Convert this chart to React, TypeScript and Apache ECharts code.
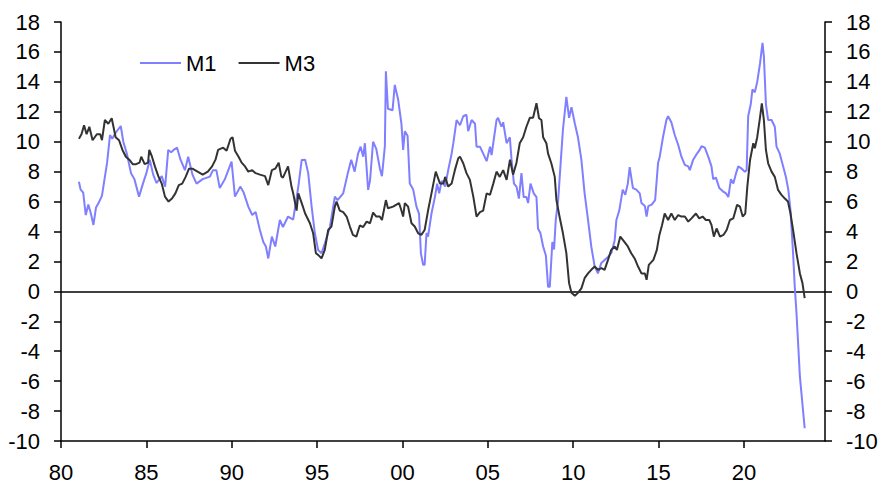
import React, { useEffect, useRef } from "react";
import * as echarts from "echarts";

const xTicks = [1980, 1985, 1990, 1995, 2000, 2005, 2010, 2015, 2020];

const m1Time = [
  1981.05, 1981.15, 1981.3, 1981.45, 1981.6, 1981.75, 1981.9, 1982.05, 1982.2, 1982.4, 1982.55, 1982.7, 1982.87,
  1983.0, 1983.2, 1983.5, 1983.65, 1983.85, 1984.1, 1984.3, 1984.57, 1984.8, 1985.0, 1985.2, 1985.4, 1985.6, 1985.9,
  1986.1, 1986.28, 1986.45, 1986.6, 1986.8, 1987.0, 1987.26, 1987.45, 1987.7, 1987.94, 1988.3, 1988.72, 1988.9,
  1989.1, 1989.3, 1989.6, 1989.99, 1990.19, 1990.5, 1990.7, 1990.97, 1991.2, 1991.4, 1991.65, 1991.85, 1992.0,
  1992.14, 1992.35, 1992.55, 1992.82, 1993.0, 1993.3, 1993.6, 1993.9, 1994.1, 1994.3, 1994.48, 1994.68, 1994.87,
  1995.06, 1995.26, 1995.45, 1995.75, 1996.04, 1996.2, 1996.53, 1996.8, 1997.0, 1997.2, 1997.4, 1997.55, 1997.7,
  1997.8, 1997.99, 1998.1, 1998.28, 1998.47, 1998.68, 1998.8, 1998.97, 1999.03, 1999.15, 1999.42, 1999.55, 1999.75,
  1999.94, 2000.04, 2000.14, 2000.3, 2000.43, 2000.63, 2000.82, 2000.97, 2001.08, 2001.21, 2001.3, 2001.41, 2001.5,
  2001.7, 2001.9, 2002.03, 2002.15, 2002.3, 2002.5, 2002.68, 2002.88, 2002.98, 2003.17, 2003.37, 2003.56, 2003.75,
  2003.85, 2004.05, 2004.25, 2004.34, 2004.54, 2004.73, 2004.93, 2005.13, 2005.22, 2005.32, 2005.51, 2005.6, 2005.8,
  2005.9, 2006.1, 2006.29, 2006.39, 2006.53, 2006.68, 2006.82, 2006.97, 2007.1, 2007.26, 2007.36, 2007.5, 2007.69,
  2007.85, 2007.94, 2008.08, 2008.24, 2008.4, 2008.53, 2008.63, 2008.78, 2008.88, 2008.98, 2009.12, 2009.25, 2009.4,
  2009.6, 2009.76, 2009.9, 2010.1, 2010.28, 2010.48, 2010.67, 2010.87, 2011.06, 2011.26, 2011.45, 2011.65, 2011.84,
  2012.04, 2012.23, 2012.43, 2012.53, 2012.7, 2012.9, 2013.05, 2013.2, 2013.31, 2013.5, 2013.7, 2013.9, 2014.0,
  2014.2, 2014.3, 2014.4, 2014.6, 2014.8, 2014.97, 2015.07, 2015.26, 2015.46, 2015.56, 2015.75, 2015.95, 2016.15,
  2016.34, 2016.54, 2016.74, 2016.83, 2017.03, 2017.19, 2017.38, 2017.52, 2017.71, 2017.91, 2018.1, 2018.2, 2018.36,
  2018.56, 2018.75, 2018.95, 2019.09, 2019.24, 2019.38, 2019.54, 2019.67, 2019.87, 2020.06, 2020.16, 2020.25, 2020.4,
  2020.5, 2020.64, 2020.78, 2020.94, 2021.09, 2021.17, 2021.29, 2021.42, 2021.62, 2021.81, 2021.91, 2022.1, 2022.3,
  2022.46, 2022.6, 2022.73, 2022.88, 2022.98, 2023.08, 2023.28, 2023.56,
];
const m1Values = [
  7.33, 6.8, 6.6, 5.1, 5.8, 5.2, 4.44, 5.6, 5.9, 6.4, 7.5, 8.6, 10.45,
  10.2, 10.6, 11.05, 10.0, 9.23, 7.9, 7.5, 6.33, 7.2, 7.9, 8.8, 7.8, 7.24, 7.7,
  7.0, 9.45, 9.3, 9.45, 9.6, 8.8, 8.1, 9.0, 7.8, 7.2, 7.5, 7.67, 8.1,
  8.1, 6.9, 7.5, 8.67, 6.33, 7.0, 6.6, 5.66, 5.1, 5.3, 4.1, 3.3, 3.0,
  2.2, 3.66, 3.0, 4.77, 4.3, 5.0, 4.8, 7.0, 8.78, 8.8, 7.9, 5.66, 3.88,
  2.77, 2.55, 3.2, 4.3, 6.33, 6.1, 6.55, 7.9, 8.8, 8.0, 9.2, 9.67, 9.0,
  9.9, 6.78, 7.4, 10.0, 9.5, 8.2, 7.7, 9.7, 14.7, 12.2, 12.1, 13.8, 12.8,
  11.2, 9.45, 10.7, 10.4, 7.2, 6.8, 5.66, 5.2, 2.55, 1.77, 1.77, 3.9, 3.66,
  5.2, 6.3, 7.2, 6.55, 7.4, 7.0, 8.1, 9.2, 9.9, 11.45, 11.1, 11.7, 11.8,
  10.7, 11.45, 11.2, 9.67, 9.67, 9.2, 8.7, 9.67, 9.1, 9.9, 11.45, 11.6, 11.0,
  11.3, 9.9, 10.3, 8.8, 7.2, 7.0, 6.2, 7.9, 6.3, 6.3, 5.9, 7.2, 6.55,
  6.3, 4.2, 3.9, 3.0, 2.4, 0.3, 0.3, 3.3, 2.8, 4.77, 6.1, 8.3, 10.8,
  13.0, 11.6, 12.3, 11.2, 10.3, 8.8, 6.55, 4.77, 3.0, 1.66, 1.2, 1.9, 2.1,
  2.3, 2.55, 3.4, 4.77, 5.4, 6.8, 6.45, 7.2, 8.3, 6.9, 6.8, 6.55, 5.9,
  5.7, 5.0, 5.7, 5.8, 6.1, 8.56, 9.0, 10.3, 11.45, 11.7, 11.3, 10.45, 9.8,
  9.0, 8.45, 8.35, 8.1, 8.8, 9.1, 9.4, 9.7, 9.6, 9.0, 8.35, 7.5, 7.6,
  6.9, 6.7, 6.55, 6.3, 7.5, 7.2, 7.9, 8.35, 8.2, 8.0, 8.1, 11.7, 12.5,
  13.5, 13.3, 14.0, 15.2, 16.6, 15.7, 12.5, 11.45, 11.45, 11.0, 9.67, 9.2, 8.35,
  7.65, 6.8, 5.4, 2.55, 0.3, -1.45, -5.7, -9.15,
];

const m3Time = [
  1981.05, 1981.2, 1981.35, 1981.5, 1981.66, 1981.85, 1982.1, 1982.3, 1982.4, 1982.57, 1982.77, 1982.97, 1983.2,
  1983.4, 1983.6, 1983.8, 1984.0, 1984.2, 1984.4, 1984.6, 1984.7, 1984.9, 1985.1, 1985.17, 1985.33, 1985.5, 1985.7,
  1985.9, 1986.09, 1986.3, 1986.5, 1986.7, 1986.9, 1987.1, 1987.3, 1987.5, 1987.7, 1988.0, 1988.3, 1988.6, 1988.85,
  1989.05, 1989.2, 1989.5, 1989.7, 1989.93, 1990.05, 1990.19, 1990.4, 1990.58, 1990.78, 1990.97, 1991.2, 1991.4,
  1991.65, 1991.95, 1992.14, 1992.35, 1992.55, 1992.75, 1992.9, 1993.0, 1993.3, 1993.5, 1993.6, 1993.8, 1993.9,
  1994.1, 1994.3, 1994.58, 1994.77, 1994.93, 1995.06, 1995.26, 1995.45, 1995.65, 1995.84, 1996.04, 1996.14, 1996.33,
  1996.53, 1996.73, 1996.92, 1997.1, 1997.3, 1997.5, 1997.7, 1997.9, 1998.1, 1998.28, 1998.47, 1998.67, 1998.8,
  1999.03, 1999.15, 1999.45, 1999.65, 1999.8, 1999.94, 2000.04, 2000.14, 2000.33, 2000.53, 2000.72, 2000.92, 2001.1,
  2001.3, 2001.5, 2001.7, 2001.95, 2002.2, 2002.4, 2002.5, 2002.68, 2002.88, 2003.07, 2003.27, 2003.37, 2003.56,
  2003.75, 2003.95, 2004.15, 2004.34, 2004.54, 2004.73, 2004.93, 2005.13, 2005.32, 2005.51, 2005.7, 2005.9, 2006.1,
  2006.3, 2006.48, 2006.68, 2006.87, 2007.07, 2007.26, 2007.46, 2007.65, 2007.85, 2008.0, 2008.14, 2008.24, 2008.43,
  2008.53, 2008.72, 2008.92, 2009.02, 2009.2, 2009.4, 2009.6, 2009.76, 2009.9, 2010.1, 2010.28, 2010.48, 2010.67,
  2010.87, 2011.06, 2011.26, 2011.45, 2011.65, 2011.84, 2012.04, 2012.23, 2012.43, 2012.56, 2012.76, 2013.0, 2013.2,
  2013.4, 2013.6, 2013.8, 2014.0, 2014.2, 2014.3, 2014.43, 2014.7, 2014.9, 2015.05, 2015.2, 2015.36, 2015.56,
  2015.75, 2015.95, 2016.15, 2016.34, 2016.54, 2016.74, 2016.93, 2017.19, 2017.38, 2017.58, 2017.77, 2017.97, 2018.1,
  2018.24, 2018.4, 2018.6, 2018.8, 2018.99, 2019.18, 2019.38, 2019.6, 2019.77, 2019.93, 2020.08, 2020.2, 2020.36,
  2020.55, 2020.64, 2020.78, 2020.94, 2021.05, 2021.17, 2021.29, 2021.42, 2021.62, 2021.81, 2022.0, 2022.2, 2022.4,
  2022.58, 2022.73, 2022.88, 2023.08, 2023.28, 2023.43, 2023.56,
];
const m3Values = [
  10.2, 10.5, 11.1, 10.5, 11.0, 10.1, 10.5, 10.5, 10.1, 11.45, 11.2, 11.57, 10.3,
  10.1, 9.45, 9.0, 8.8, 8.5, 8.5, 8.6, 9.0, 8.5, 8.6, 9.45, 9.0, 8.35, 7.7,
  7.2, 6.33, 6.0, 6.2, 6.55, 7.1, 7.2, 7.65, 8.2, 8.2, 8.0, 7.8, 8.0, 8.35,
  8.8, 9.45, 9.6, 9.4, 10.2, 10.3, 9.4, 9.0, 8.6, 8.35, 8.0, 8.1, 7.9,
  7.8, 7.7, 7.1, 8.1, 8.2, 8.6, 7.7, 7.6, 8.35, 7.0, 6.55, 5.4, 6.55,
  5.9, 5.2, 4.55, 3.88, 2.55, 2.44, 2.2, 2.77, 4.1, 4.33, 5.66, 6.0, 5.4,
  5.3, 5.0, 4.33, 3.77, 3.66, 4.4, 4.3, 4.66, 4.55, 5.26, 5.0, 5.0, 4.77,
  6.1, 5.55, 5.66, 5.8, 5.9, 5.4, 5.0, 5.9, 5.66, 4.55, 4.33, 3.88, 3.77,
  4.1, 5.4, 6.55, 8.0, 7.2, 7.2, 7.65, 7.0, 7.2, 8.1, 8.9, 9.0, 8.56,
  7.9, 7.45, 6.33, 5.0, 5.3, 5.4, 6.55, 6.45, 7.2, 8.0, 7.65, 8.1, 7.45,
  8.8, 7.8, 8.6, 9.9, 10.3, 11.0, 11.6, 11.6, 12.57, 11.57, 11.45, 10.3, 9.9,
  9.2, 8.56, 7.65, 6.1, 5.0, 3.88, 2.55, 0.55, -0.1, -0.3, -0.1, 0.2, 0.88,
  1.2, 1.44, 1.66, 1.44, 1.55, 1.44, 2.1, 2.77, 3.0, 2.77, 3.66, 3.3, 3.0,
  2.55, 2.2, 1.66, 1.2, 1.2, 0.77, 1.77, 2.1, 2.77, 3.77, 4.4, 5.2, 4.77,
  5.2, 4.77, 5.1, 5.0, 5.0, 4.66, 4.88, 5.2, 4.88, 5.0, 4.77, 4.77, 4.44,
  3.66, 4.2, 3.66, 3.77, 4.1, 4.77, 4.88, 5.78, 5.66, 5.0, 5.2, 7.0, 8.78,
  9.9, 9.56, 10.3, 11.6, 12.57, 11.45, 9.45, 8.56, 8.0, 7.65, 6.78, 6.45, 6.2,
  6.0, 5.2, 4.1, 2.55, 1.2, 0.55, -0.45,
];

const zip = (t: number[], v: number[]) => t.map((x, i) => [x, v[i]]);

const FONT = "'Liberation Sans', Arial, sans-serif";
const FS = 22;

export default function App() {
  const ref = useRef<HTMLDivElement>(null);
  useEffect(() => {
    if (!ref.current) return;
    const chart = echarts.init(ref.current, null, { renderer: "svg" });
    const yAxisBase = {
      type: "value" as const,
      min: -10,
      max: 18,
      interval: 2,
      splitLine: { show: false },
      axisLine: { show: true, lineStyle: { color: "#000", width: 1.5 } },
      axisTick: { show: true, inside: false, length: 7, lineStyle: { color: "#000", width: 1.5 } },
      axisLabel: { color: "#000", fontSize: FS, fontFamily: FONT, margin: 21 },
    };
    chart.setOption({
      animation: false,
      backgroundColor: "#fff",
      textStyle: { fontFamily: FONT },
      grid: { left: 61, right: 61, top: 22, bottom: 55, containLabel: false },
      legend: {
        left: 135,
        top: 47,
        itemWidth: 41,
        itemHeight: 2,
        itemGap: 22,
        icon: "rect",
        textStyle: { color: "#000", fontSize: FS, fontFamily: FONT },
        data: ["M1", "M3"],
      },
      xAxis: {
        type: "value",
        min: 1980,
        max: 2024.75,
        interval: 5,
        splitLine: { show: false },
        axisLine: { show: true, onZero: false, lineStyle: { color: "#000", width: 1.5 } },
        axisTick: {
          show: true,
          length: 7,
          customValues: xTicks,
          lineStyle: { color: "#000", width: 1.5 },
        },
        axisLabel: {
          color: "#000",
          fontSize: FS,
          fontFamily: FONT,
          margin: 20,
          customValues: xTicks,
          formatter: (v: number) => String(Math.round(v) % 100).padStart(2, "0"),
        },
      },
      yAxis: [
        { ...yAxisBase, position: "left" },
        { ...yAxisBase, position: "right" },
      ],
      series: [
        {
          name: "M1",
          type: "line",
          data: zip(m1Time, m1Values),
          showSymbol: false,
          symbol: "none",
          lineStyle: { color: "#7f7fff", width: 2 },
          itemStyle: { color: "#7f7fff" },
          z: 2,
        },
        {
          name: "M3",
          type: "line",
          data: zip(m3Time, m3Values),
          showSymbol: false,
          symbol: "none",
          lineStyle: { color: "#333333", width: 2 },
          itemStyle: { color: "#333333" },
          z: 3,
          markLine: {
            silent: true,
            symbol: "none",
            label: { show: false },
            lineStyle: { color: "#000", width: 1.5, type: "solid" },
            data: [{ yAxis: 0 }],
            z: 1,
          },
        },
      ],
    });
    return () => chart.dispose();
  }, []);
  return (
    <div
      ref={ref}
      style={{ position: "fixed", left: 0, top: 0, width: 886, height: 496, background: "#fff" }}
    />
  );
}
